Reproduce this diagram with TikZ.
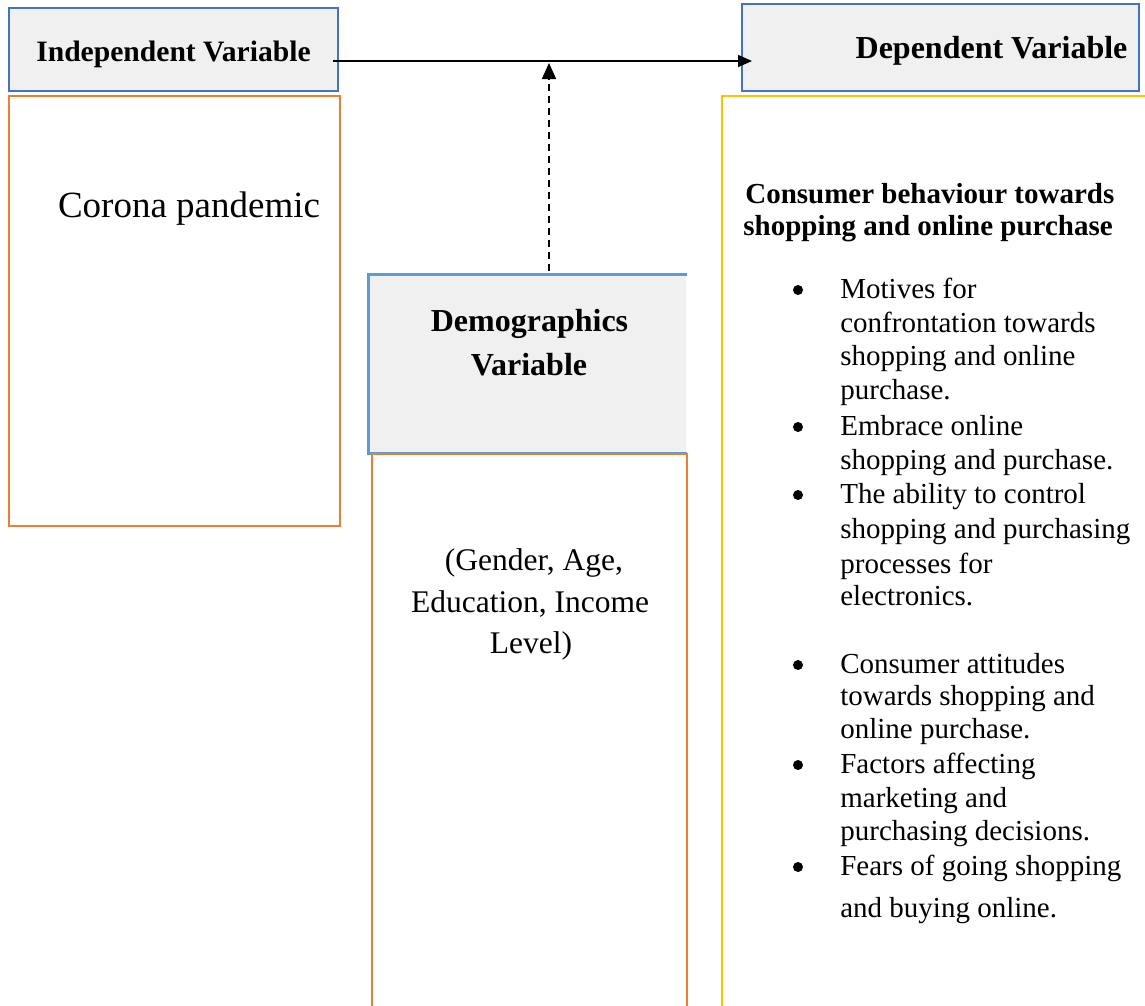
\documentclass[tikz,border=0pt]{standalone}
\usepackage{fontspec}
\setmainfont{Liberation Serif}
\usetikzlibrary{arrows.meta}
\definecolor{frameblue}{RGB}{68,114,196}
\definecolor{paleblue}{RGB}{91,155,213}
\definecolor{frameorange}{RGB}{237,125,49}
\definecolor{frameyellow}{RGB}{255,192,0}
\definecolor{headfill}{RGB}{240,240,240}

\begin{document}
\begin{tikzpicture}[x=1pt, y=-1pt, line width=2.7pt,
	headbox/.style={draw=frameblue, fill=headfill, inner sep=0pt},
	bodybox/.style={draw=frameorange, inner sep=0pt},
	bold/.style={font=\bfseries\fontsize{29}{34}\selectfont, inner sep=0pt},
	plain/.style={font=\fontsize{29}{34}\selectfont, inner sep=0pt}]
	\clip (0,0) rectangle (1145,1005);
	\fill[white] (0,0) rectangle (1145,1005);
	\node[headbox, minimum width=329, minimum height=83] (indep) at (173.5,49.5) {};
	\node[headbox, minimum width=397, minimum height=87] (dep) at (940.5,47.5) {};
	\node[bodybox, minimum width=331, minimum height=430] (corona) at (174.5,311) {};
	\node[fill=headfill, inner sep=0pt, minimum width=316, minimum height=176] (demo) at (528,364) {};
	\draw[paleblue] (demo.north east) -- (demo.north west) -- (demo.south west) -- (demo.south east);
	\node[bodybox, minimum width=315, minimum height=580] (demoinfo) at (529.5,744) {};
	\node[draw=frameyellow, inner sep=0pt, minimum width=460, minimum height=930] (outcome) at (952,561) {};
	\node[bold, font=\bfseries\fontsize{29.6}{34}\selectfont, anchor=base] (indeplabel) at (173.5,61) {Independent Variable};
	\node[bold, font=\bfseries\fontsize{32}{38}\selectfont, anchor=base] (deplabel) at (991.5,58) {Dependent Variable};
	\node[font=\fontsize{37}{44}\selectfont, inner sep=0pt, anchor=base] (coronalabel) at (189,217) {Corona pandemic};
	\node[font=\bfseries\fontsize{32}{44}\selectfont, inner sep=0pt, anchor=base] (demo1) at (529.5,331) {Demographics};
	\node[font=\bfseries\fontsize{32}{44}\selectfont, inner sep=0pt, anchor=base] (demo2) at (529,375) {Variable};
	\node[font=\fontsize{31.5}{42}\selectfont, inner sep=0pt, anchor=base] (info1) at (534,570) {(Gender, Age,};
	\node[font=\fontsize{31.5}{42}\selectfont, inner sep=0pt, anchor=base] (info2) at (530,612) {Education, Income};
	\node[font=\fontsize{31.5}{42}\selectfont, inner sep=0pt, anchor=base] (info3) at (531,653) {Level)};
	\node[bold, anchor=base west] (head1) at (744,203) {Consumer behaviour towards};
	\node[bold, anchor=base west] (head2) at (742,235) {shopping and online purchase};
	\foreach \yy/\txt [count=\i] in {298/Motives for, 332/confrontation towards, 365/shopping and online, 399/purchase.,
		435/Embrace online, 469/shopping and purchase., 503/The ability to control, 538/shopping and purchasing,
		573/processes for, 605/electronics., 673/Consumer attitudes, 705/towards shopping and, 738/online purchase.,
		773/Factors affecting, 807/marketing and, 840/purchasing decisions., 875/Fears of going shopping, 917/and buying online.}
		\node[plain, anchor=base west] (line\i) at (839,\yy) {\txt};
	\foreach \yy in {298,435,503,673,773,875} \fill (798,\yy-8) circle (5pt);
	\coordinate (tail) at (333,61);
	\coordinate (head) at (752,61);
	\coordinate (meet) at (549,63);
	\draw[line width=1.6pt, -{Triangle[length=14pt,width=12pt]}] (tail) -- (head);
	\draw[line width=1.6pt, dash pattern=on 7pt off 5pt, -{Triangle[length=16pt,width=14pt]}] ([yshift=4pt]demo.north -| meet) -- (meet);
\end{tikzpicture}
\end{document}
